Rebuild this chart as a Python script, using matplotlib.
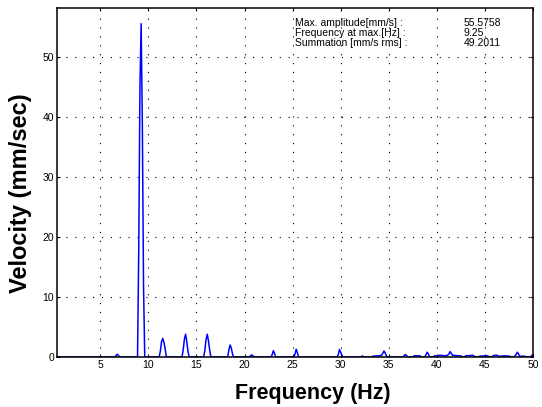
import matplotlib
matplotlib.use("Agg")
import matplotlib.pyplot as plt
import numpy as np

# vibration spectrum, velocity amplitude per frequency line
freq_hz = [0.5, 6.5, 6.625, 6.75, 6.875, 7.0, 7.125,
           8.875, 9.0, 9.125, 9.25, 9.375, 9.5, 9.625,
           11.125, 11.25, 11.375, 11.5, 11.625, 11.75, 11.875,
           13.5, 13.625, 13.75, 13.875, 14.0, 14.125, 14.25,
           15.75, 15.875, 16.0, 16.125, 16.25, 16.375, 16.5,
           18.25, 18.375, 18.5, 18.625, 18.75, 18.875,
           20.5, 20.625, 20.75, 20.875, 21.0,
           22.75, 22.875, 23.0, 23.125, 23.25,
           25.125, 25.25, 25.375, 25.5, 25.625,
           29.625, 29.75, 29.875, 30.0, 30.125, 30.25,
           32.125, 32.25, 32.375, 33.25, 33.375, 34.0, 34.25, 34.375, 34.5, 34.625, 34.75, 34.875,
           36.5, 36.625, 36.75, 36.875, 37.0, 37.5, 37.625, 38.25, 38.375,
           38.75, 38.875, 39.0, 39.125, 39.25, 39.625, 39.75, 40.125, 40.25, 40.875,
           41.125, 41.25, 41.375, 41.5, 41.625, 42.25, 42.5, 42.625,
           42.875, 43.0, 43.5, 43.75, 43.875, 44.25, 44.5, 45.25, 45.5,
           45.75, 45.875, 46.25, 46.5, 47.0, 47.5, 47.75,
           48.0, 48.25, 48.375, 48.5, 48.625, 49.0, 49.5, 49.75, 49.875, 50.0]
velocity = [0.0, 0.0, 0.2, 0.45, 0.3, 0.05, 0.0,
            0.0, 17.8, 45.0, 55.5758, 38.7, 11.7, 0.0,
            0.0, 1.0, 2.6, 3.1, 2.4, 1.3, 0.0,
            0.0, 1.2, 3.0, 3.8, 2.5, 0.9, 0.0,
            0.0, 1.1, 2.9, 3.8, 2.7, 1.2, 0.0,
            0.0, 1.2, 2.0, 1.5, 0.5, 0.0,
            0.0, 0.2, 0.35, 0.2, 0.0,
            0.0, 0.4, 1.05, 0.6, 0.0,
            0.0, 0.5, 1.3, 0.7, 0.0,
            0.0, 0.4, 1.25, 0.8, 0.3, 0.0,
            0.0, 0.2, 0.0, 0.0, 0.15, 0.2, 0.3, 0.6, 1.0, 0.7, 0.2, 0.0,
            0.0, 0.3, 0.4, 0.2, 0.0, 0.0, 0.2, 0.2, 0.0,
            0.0, 0.4, 0.8, 0.5, 0.0, 0.0, 0.2, 0.15, 0.3, 0.2,
            0.3, 0.5, 0.9, 0.6, 0.3, 0.2, 0.2, 0.0,
            0.0, 0.2, 0.25, 0.3, 0.1, 0.0, 0.15, 0.2, 0.0,
            0.0, 0.25, 0.3, 0.1, 0.2, 0.15, 0.0,
            0.0, 0.4, 0.8, 0.5, 0.1, 0.15, 0.0, 0.0, 0.3, 0.3]

x_ticks = [5, 10, 15, 20, 25, 30, 35, 40, 45, 50]
y_ticks = [0, 10, 20, 30, 40, 50]
summation_rms = 49.2011

plt.rcParams['font.family'] = ['Liberation Sans', 'DejaVu Sans']

fig = plt.figure(figsize=(5.42, 4.07), dpi=100)
ax = fig.add_axes([57 / 542, 50 / 407, 476 / 542, 349 / 407])

ax.plot(freq_hz, velocity, color='#0000ff', linewidth=1.1)

ax.set_xlim(0.5, 50)
ax.set_ylim(0, 58.2)
ax.set_xticks(x_ticks)
ax.set_yticks(y_ticks)
ax.tick_params(direction='in', length=2.5, width=0.8, top=True, right=True,
               labelsize=7.5, pad=2)
ax.grid(True, color='black', linestyle=(0, (1, 7)), linewidth=0.8)
for s in ax.spines.values():
    s.set_linewidth(1.1)

ax.set_xlabel('Frequency (Hz)', fontsize=15.5, fontweight='bold')
ax.set_ylabel('Velocity (mm/sec)', fontsize=17, fontweight='bold')
ax.xaxis.set_label_coords(0.538, -0.075)
ax.yaxis.set_label_coords(-0.052, 0.47)

# readout in the upper right corner
i_max = int(np.argmax(velocity))
labels = ['Max. amplitude[mm/s] :', 'Frequency at max.[Hz] :', 'Summation [mm/s rms] :']
values = ['%.4f' % velocity[i_max], '%.2f' % freq_hz[i_max], '%.4f' % summation_rms]
rows_y = [23, 33, 42.5]
for lab, val, y in zip(labels, values, rows_y):
    fig.text(295 / 542, 1 - y / 407, lab, fontsize=7.5, va='center', ha='left')
    fig.text(464 / 542, 1 - y / 407, val, fontsize=7.5, va='center', ha='left')

fig.savefig('out.png', dpi=100)
